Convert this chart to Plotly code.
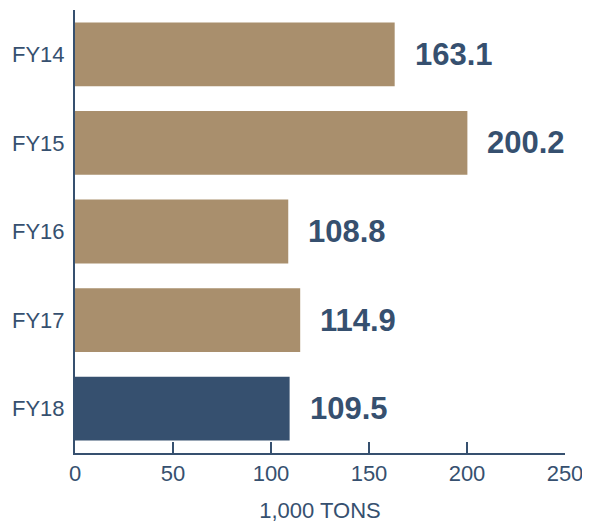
import plotly.graph_objects as go

categories = ["FY14", "FY15", "FY16", "FY17", "FY18"]
values = [163.1, 200.2, 108.8, 114.9, 109.5]
colors = ["#A98F6D", "#A98F6D", "#A98F6D", "#A98F6D", "#36506F"]
labels = ["163.1", "200.2", "108.8", "114.9", "109.5"]

FONT = "Arial, Liberation Sans, sans-serif"
AX = "#36506F"

fig = go.Figure(go.Bar(
    y=categories, x=values, orientation="h",
    marker=dict(color=colors, line=dict(width=0)),
    hoverinfo="skip",
))

for c, v, t in zip(categories, values, labels):
    fig.add_annotation(x=v, y=c, text="<b>%s</b>" % t, showarrow=False,
                       xanchor="left", xshift=18,
                       font=dict(family=FONT, size=31, color=AX))

fig.update_layout(
    width=582, height=515,
    margin=dict(l=67, r=25, t=2, b=70),
    paper_bgcolor="white", plot_bgcolor="white",
    bargap=0.28, showlegend=False,
    font=dict(family=FONT, color=AX),
)
fig.update_xaxes(range=[0, 250], tickvals=[0, 50, 100, 150, 200, 250],
                 showgrid=False, zeroline=False,
                 showline=True, linecolor=AX, linewidth=2,
                 ticks="inside", ticklen=11, tickwidth=2, tickcolor=AX,
                 tickfont=dict(size=22, color=AX),
                 title=dict(text="1,000 TONS", font=dict(size=22, color=AX), standoff=17))
fig.update_yaxes(autorange="reversed", range=[4.5, -0.5],
                 showgrid=False, zeroline=False,
                 showline=True, linecolor=AX, linewidth=2,
                 ticks="", tickfont=dict(size=22, color=AX), ticklabelstandoff=4)

fig.write_html("out.html")
